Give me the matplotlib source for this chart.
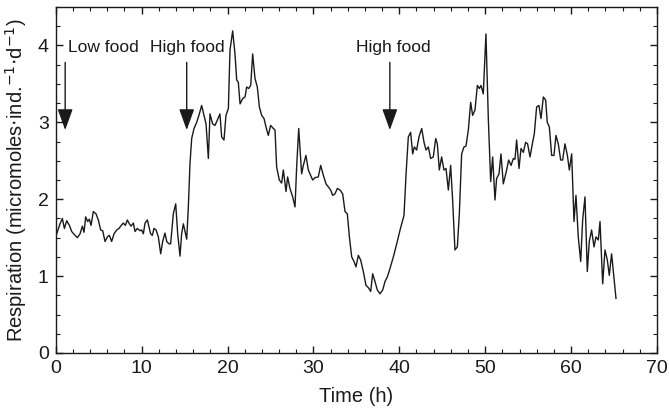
import matplotlib
matplotlib.use("Agg")
import matplotlib.pyplot as plt
from matplotlib.ticker import MultipleLocator

plt.rcParams["font.family"] = ["Liberation Sans", "DejaVu Sans"]

# respiration trace, hours vs micromoles per individual per day
time_h = [
    0.11, 0.50, 0.77, 1.01, 1.28, 1.59, 1.86, 2.25, 2.52, 2.83, 3.10, 3.29, 3.49, 3.72,
    3.92, 4.11, 4.38, 4.69, 4.96, 5.23, 5.47, 5.74, 6.01, 6.24, 6.51, 6.79, 7.10, 7.37,
    7.56, 7.87, 8.11, 8.34, 8.57, 8.77, 9.04, 9.23, 9.50, 9.81, 10.01, 10.20, 10.40,
    10.67, 10.86, 11.05, 11.25, 11.44, 11.68, 11.95, 12.22, 12.45, 12.72, 12.92, 13.19,
    13.38, 13.69, 13.97, 14.20, 14.47, 14.66, 14.86, 15.25, 15.44, 15.63, 15.83, 16.10,
    16.41, 16.72, 16.99, 17.26, 17.50, 17.77, 17.96, 18.27, 18.54, 18.82, 19.12, 19.32,
    19.59, 19.82, 20.10, 20.29, 20.60, 20.87, 21.07, 21.26, 21.46, 21.77, 22.04, 22.23,
    22.47, 22.70, 22.93, 23.20, 23.47, 23.71, 23.98, 24.25, 24.48, 24.75, 25.02, 25.34,
    25.53, 25.72, 26.03, 26.30, 26.50, 26.81, 27.00, 27.27, 27.59, 27.86, 28.05, 28.29,
    28.63, 28.83, 29.13, 29.41, 29.68, 29.91, 30.18, 30.57, 30.85, 31.16, 31.47, 31.74,
    32.01, 32.24, 32.51, 32.79, 33.10, 33.41, 33.68, 33.95, 34.19, 34.46, 34.73, 34.96,
    35.23, 35.50, 35.81, 36.12, 36.40, 36.67, 36.90, 37.17, 37.44, 37.76, 38.07, 38.34,
    38.61, 38.92, 39.31, 39.70, 40.09, 40.55, 40.78, 41.05, 41.32, 41.56, 41.75, 42.02,
    42.29, 42.61, 42.88, 43.11, 43.38, 43.65, 43.96, 44.24, 44.43, 44.66, 44.93, 45.20,
    45.44, 45.71, 45.98, 46.21, 46.48, 46.76, 46.99, 47.26, 47.53, 47.76, 48.04, 48.31,
    48.54, 48.81, 49.09, 49.32, 49.51, 49.78, 50.09, 50.36, 50.64, 50.87, 51.14, 51.33,
    51.61, 51.84, 52.11, 52.31, 52.50, 52.73, 53.01, 53.28, 53.47, 53.66, 53.94, 54.17,
    54.44, 54.71, 54.94, 55.22, 55.49, 55.72, 55.99, 56.26, 56.50, 56.77, 57.04, 57.23,
    57.47, 57.74, 58.01, 58.24, 58.51, 58.79, 59.02, 59.29, 59.57, 59.80, 60.07, 60.34,
    60.57, 60.84, 61.12, 61.35, 61.62, 61.89, 62.12, 62.39, 62.67, 62.90, 63.17, 63.37,
    63.68, 63.95, 64.22, 64.45, 64.72, 65.23,
]
respiration = [
    1.55, 1.68, 1.75, 1.62, 1.72, 1.66, 1.58, 1.53, 1.50, 1.55, 1.65, 1.57, 1.77, 1.71,
    1.74, 1.66, 1.84, 1.81, 1.73, 1.60, 1.59, 1.45, 1.51, 1.53, 1.45, 1.55, 1.60, 1.62,
    1.65, 1.69, 1.66, 1.73, 1.68, 1.65, 1.69, 1.58, 1.62, 1.59, 1.60, 1.55, 1.69,
    1.73, 1.64, 1.55, 1.53, 1.62, 1.60, 1.51, 1.29, 1.45, 1.56, 1.45, 1.42,
    1.42, 1.81, 1.94, 1.55, 1.26, 1.55, 1.68, 1.48, 1.90, 2.46, 2.79, 2.92,
    3.00, 3.11, 3.22, 3.09, 2.98, 2.53, 3.11, 2.98, 2.96, 3.03, 3.11, 2.81,
    2.77, 3.09, 3.18, 3.94, 4.19, 3.89, 3.55, 3.52, 3.24, 3.31, 3.33, 3.46,
    3.44, 3.48, 3.89, 3.57, 3.46, 3.20, 3.09, 3.05, 2.94, 2.83, 2.96, 2.92,
    2.90, 2.42, 2.25, 2.21, 2.38, 2.10, 2.29, 2.14, 2.03, 1.90, 2.42, 2.92,
    2.33, 2.44, 2.57, 2.38, 2.31, 2.25, 2.28, 2.29, 2.44, 2.31, 2.20, 2.16,
    2.12, 2.05, 2.07, 2.14, 2.12, 2.07, 1.84, 1.81, 1.51, 1.25, 1.19, 1.12,
    1.27, 1.21, 1.06, 0.88, 0.85, 0.80, 1.03, 0.93, 0.82, 0.77, 0.82, 0.93,
    0.99, 1.10, 1.25, 1.42, 1.60, 1.79, 2.31, 2.81, 2.87, 2.59, 2.68, 2.64,
    2.81, 2.92, 2.74, 2.64, 2.68, 2.53, 2.55, 2.79, 2.72, 2.38, 2.55, 2.38,
    2.40, 2.12, 2.44, 1.99, 1.34, 1.38, 1.81, 2.59, 2.68, 2.69, 2.90, 3.26,
    3.09, 3.16, 3.48, 3.44, 3.48, 3.37, 4.15, 3.07, 2.23, 2.55, 1.99, 2.27,
    2.33, 2.59, 2.20, 2.29, 2.38, 2.51, 2.44, 2.53, 2.52, 2.77, 2.40, 2.66,
    2.61, 2.74, 2.72, 2.55, 2.72, 2.85, 3.20, 3.22, 3.05, 3.33, 3.29, 3.00,
    2.94, 2.57, 2.57, 2.83, 2.72, 2.51, 2.51, 2.72, 2.57, 2.38, 2.59, 1.71,
    2.05, 1.51, 1.19, 1.73, 2.03, 1.06, 1.45, 1.60, 1.38, 1.51, 1.47, 1.71,
    0.90, 1.34, 1.21, 1.01, 1.29, 0.71,
]

# feeding events: label, arrow x, label x
event_labels = ["Low food", "High food", "High food"]
event_time = [1.1, 15.25, 38.9]
label_x = [1.45, 15.35, 39.3]

fig = plt.figure(figsize=(6.69, 4.13), dpi=100)
ax = fig.add_axes([0.0833, 0.1453, 0.8987, 0.8377])

ax.plot(time_h, respiration, color="#1a1a1a", lw=1.0)

for i, lab in enumerate(event_labels):
    ax.annotate(
        "", xy=(event_time[i], 2.9), xytext=(event_time[i], 3.78),
        arrowprops=dict(arrowstyle="-|>,head_length=1.3,head_width=0.47",
                        mutation_scale=10, color="#1a1a1a", lw=1.0,
                        shrinkA=0, shrinkB=0),
    )
    ha = "left" if i == 0 else "center"
    ax.text(label_x[i], 3.97, lab, ha=ha, va="center", fontsize=12.5,
            color="#1a1a1a")

ax.set_xlim(0, 70)
ax.set_ylim(0, 4.5)
ax.set_xticks(range(0, 71, 10))
ax.set_yticks(range(0, 5))
ax.xaxis.set_minor_locator(MultipleLocator(2))
ax.yaxis.set_minor_locator(MultipleLocator(0.25))
ax.tick_params(which="both", direction="in", top=True, right=True,
               labelsize=14, colors="#1a1a1a")
ax.tick_params(which="major", length=5, width=1, pad=5)
ax.tick_params(which="minor", length=3, width=0.8)
for s in ax.spines.values():
    s.set_linewidth(1.0)
    s.set_color("#1a1a1a")

ax.set_xlabel("Time (h)", fontsize=14.5, color="#1a1a1a", labelpad=7)
ax.set_ylabel("Respiration (micromoles$\\cdot$ind.$^{-1}$$\\cdot$d$^{-1}$)",
              fontsize=14.5, color="#1a1a1a", labelpad=6)

fig.savefig("out.png", dpi=100)
